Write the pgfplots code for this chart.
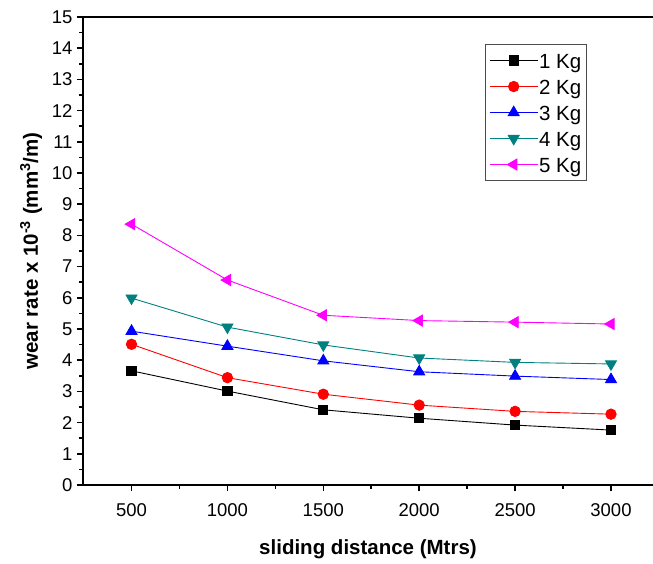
\documentclass[border=0pt]{standalone}
\usepackage{pgfplots}
\pgfplotsset{compat=1.18}
\usepackage{fontspec}
\setmainfont{Liberation Sans}
\definecolor{tealc}{RGB}{0,128,128}
\definecolor{magc}{RGB}{255,0,255}
\begin{document}
\begin{tikzpicture}
\begin{axis}[
  scale only axis, width=570pt, height=468pt,
  xmin=247, xmax=3219, ymin=0, ymax=15,
  axis x line=box, axis y line=left,
  axis line style={-, line width=1.6pt},
  xtick pos=left,
  xtick={500,1000,...,3000}, ytick={0,1,...,15},
  minor x tick num=1, minor y tick num=1,
  tick align=outside,
  major tick length=6pt, minor tick length=3.5pt,
  every tick/.style={black, line width=1.6pt},
  /pgf/number format/assume math mode=true,
  /pgf/number format/1000 sep={},
  ticklabel style={font=\fontsize{18.5}{20}\selectfont},
  xticklabel style={yshift=-9pt},
  yticklabel style={xshift=-1pt},
  xlabel={\bfseries sliding distance (Mtrs)},
  ylabel={\bfseries wear rate x 10\textsuperscript{-3} (mm\textsuperscript{3}/m)},
  xlabel style={yshift=-16pt},
  ylabel style={yshift=3pt},
  label style={font=\fontsize{20.5}{22}\selectfont},
  legend style={at={(0.705,0.942)}, anchor=north west, draw=black!70, line width=0.8pt,
    font=\fontsize{20.5}{22}\selectfont, inner xsep=4pt, inner ysep=5pt,
    nodes={inner sep=1pt, text height=18pt, text depth=2pt}, row sep=4pt,
    /tikz/every even column/.append style={column sep=8pt}},
  legend cell align=left,
  legend image code/.code={\draw[mark repeat=2,mark phase=2] plot coordinates {(0pt,0pt)(24pt,0pt)(48pt,0pt)};},
  every axis plot/.append style={line width=0.9pt},
]
\coordinate (O) at (rel axis cs:0,0);
\addplot[black, mark=square*, mark size=4.6pt, mark options={solid}] coordinates {(500,3.66)(1000,3.01)(1500,2.41)(2000,2.14)(2500,1.92)(3000,1.76)};
\addlegendentry{1 Kg}
\addplot[red, mark=*, mark size=5.2pt] coordinates {(500,4.51)(1000,3.44)(1500,2.91)(2000,2.56)(2500,2.36)(3000,2.27)};
\addlegendentry{2 Kg}
\addplot[blue, mark=triangle*, mark size=6.3pt] coordinates {(500,4.93)(1000,4.45)(1500,3.98)(2000,3.63)(2500,3.49)(3000,3.38)};
\addlegendentry{3 Kg}
\addplot[tealc, mark=triangle*, mark size=6.3pt, mark options={rotate=180}] coordinates {(500,5.99)(1000,5.06)(1500,4.49)(2000,4.07)(2500,3.93)(3000,3.88)};
\addlegendentry{4 Kg}
\addplot[magc, mark=triangle*, mark size=6.3pt, mark options={rotate=90}] coordinates {(500,8.36)(1000,6.57)(1500,5.44)(2000,5.27)(2500,5.22)(3000,5.16)};
\addlegendentry{5 Kg}
\end{axis}
\pgfresetboundingbox
\useasboundingbox (O) ++(-83pt,-78pt) rectangle ++(653pt,563pt);
\end{tikzpicture}
\end{document}
